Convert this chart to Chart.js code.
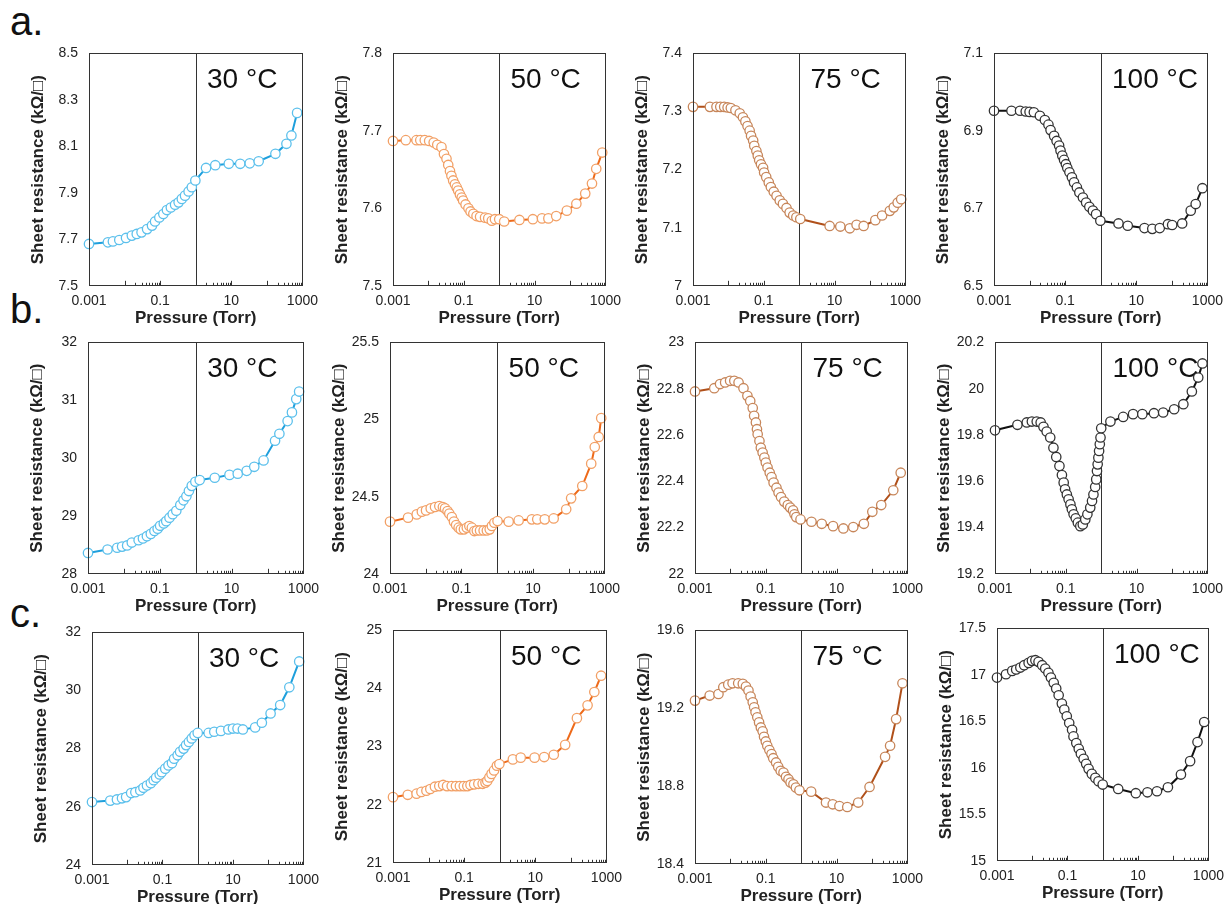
<!DOCTYPE html>
<html>
<head>
<meta charset="utf-8">
<script src="https://cdn.jsdelivr.net/npm/chart.js@4.4.0/dist/chart.umd.min.js"></script>
<style>
  body { margin: 0; background: #fff; width: 1224px; height: 904px; position: relative; overflow: hidden; font-family: "Liberation Sans", Arial, sans-serif; }
  canvas { position: absolute; }
  .tag { position: absolute; font-size: 40px; line-height: 1; color: #111; }
</style>
</head>
<body>
<div class="tag" style="left:10px;top:1px">a.</div>
<div class="tag" style="left:10px;top:289px">b.</div>
<div class="tag" style="left:10px;top:593px">c.</div>
<script>
// pressure (Torr) and sheet resistance (kOhm/sq)
const pA30 = [0.001, 0.0034, 0.0047, 0.0071, 0.011, 0.016, 0.022, 0.030, 0.043, 0.059, 0.072, 0.095, 0.123, 0.155, 0.20, 0.263, 0.331, 0.407, 0.501, 0.631, 0.776, 0.977, 1.95, 3.55, 8.51, 17.8, 33.1, 58.9, 174, 355, 490, 708];
const rA30 = [7.680, 7.687, 7.691, 7.697, 7.706, 7.716, 7.723, 7.730, 7.744, 7.759, 7.777, 7.794, 7.809, 7.826, 7.837, 7.849, 7.859, 7.874, 7.888, 7.906, 7.924, 7.953, 8.007, 8.019, 8.025, 8.025, 8.027, 8.036, 8.068, 8.111, 8.147, 8.244];

const pA50 = [0.001, 0.0023, 0.0046, 0.0059, 0.0079, 0.0105, 0.0141, 0.0178, 0.0234, 0.0275, 0.0324, 0.0363, 0.0407, 0.0447, 0.050, 0.0562, 0.0631, 0.0692, 0.0776, 0.0871, 0.0955, 0.112, 0.135, 0.155, 0.186, 0.229, 0.288, 0.398, 0.490, 0.617, 0.759, 1.0, 1.38, 3.72, 8.91, 16.2, 24.5, 40.7, 81.3, 151, 269, 417, 550, 813];
const rA50 = [7.687, 7.688, 7.688, 7.688, 7.688, 7.687, 7.685, 7.682, 7.679, 7.670, 7.664, 7.656, 7.648, 7.642, 7.636, 7.631, 7.627, 7.623, 7.618, 7.614, 7.610, 7.605, 7.600, 7.596, 7.593, 7.590, 7.589, 7.588, 7.587, 7.584, 7.586, 7.586, 7.583, 7.585, 7.586, 7.587, 7.587, 7.590, 7.597, 7.606, 7.619, 7.632, 7.651, 7.672];

const pA75 = [0.001, 0.0030, 0.0046, 0.0059, 0.0076, 0.0095, 0.0117, 0.0158, 0.0209, 0.0257, 0.0302, 0.0347, 0.0398, 0.0437, 0.050, 0.0537, 0.0617, 0.0676, 0.0741, 0.0832, 0.0955, 0.102, 0.117, 0.138, 0.158, 0.191, 0.229, 0.282, 0.347, 0.437, 0.537, 0.676, 0.832, 1.07, 7.24, 14.5, 26.9, 41.7, 66.1, 141, 219, 363, 468, 603, 759];
const rA75 = [7.308, 7.308, 7.308, 7.308, 7.308, 7.307, 7.306, 7.302, 7.297, 7.290, 7.283, 7.275, 7.267, 7.258, 7.250, 7.241, 7.232, 7.224, 7.216, 7.209, 7.203, 7.195, 7.187, 7.178, 7.170, 7.162, 7.155, 7.147, 7.141, 7.134, 7.126, 7.121, 7.118, 7.115, 7.103, 7.102, 7.099, 7.105, 7.103, 7.113, 7.121, 7.129, 7.135, 7.143, 7.149];

const pA100 = [0.001, 0.0031, 0.0054, 0.0078, 0.010, 0.0132, 0.0195, 0.0269, 0.0339, 0.0389, 0.049, 0.0575, 0.0676, 0.0741, 0.0832, 0.0933, 0.105, 0.115, 0.132, 0.155, 0.178, 0.214, 0.251, 0.316, 0.389, 0.479, 0.603, 0.741, 0.977, 3.16, 5.75, 17.0, 28.2, 45.7, 77.6, 102, 195, 339, 468, 724];
const rA100 = [6.952, 6.952, 6.952, 6.950, 6.949, 6.948, 6.939, 6.928, 6.916, 6.902, 6.887, 6.874, 6.862, 6.849, 6.836, 6.825, 6.814, 6.804, 6.793, 6.780, 6.767, 6.754, 6.741, 6.728, 6.715, 6.704, 6.694, 6.685, 6.668, 6.661, 6.655, 6.649, 6.647, 6.649, 6.659, 6.657, 6.661, 6.694, 6.711, 6.752];

const pB30 = [0.001, 0.0035, 0.0065, 0.0089, 0.0123, 0.0166, 0.0257, 0.0339, 0.0437, 0.0562, 0.0708, 0.0871, 0.102, 0.129, 0.151, 0.186, 0.229, 0.288, 0.372, 0.457, 0.550, 0.646, 0.776, 0.977, 1.29, 3.39, 8.71, 14.8, 26.3, 42.7, 77.6, 162, 214, 363, 479, 631, 759];
const rB30 = [28.36, 28.42, 28.45, 28.47, 28.49, 28.54, 28.58, 28.61, 28.65, 28.69, 28.74, 28.78, 28.83, 28.87, 28.91, 28.97, 29.03, 29.09, 29.19, 29.27, 29.34, 29.43, 29.52, 29.59, 29.62, 29.66, 29.71, 29.73, 29.78, 29.85, 29.96, 30.30, 30.42, 30.64, 30.79, 31.02, 31.15];

const pB50 = [0.001, 0.0032, 0.0056, 0.0078, 0.0102, 0.0138, 0.0182, 0.0240, 0.0302, 0.0347, 0.0407, 0.0457, 0.0537, 0.0617, 0.0708, 0.0832, 0.0955, 0.117, 0.141, 0.166, 0.195, 0.229, 0.269, 0.331, 0.417, 0.513, 0.617, 0.708, 0.832, 1.02, 2.09, 3.98, 9.33, 13.2, 21.4, 38.0, 85.1, 117, 240, 427, 537, 692, 813];
const rB50 = [24.338, 24.364, 24.385, 24.403, 24.411, 24.424, 24.433, 24.439, 24.433, 24.424, 24.407, 24.390, 24.368, 24.338, 24.316, 24.299, 24.288, 24.288, 24.299, 24.310, 24.299, 24.277, 24.281, 24.281, 24.281, 24.281, 24.288, 24.310, 24.331, 24.342, 24.338, 24.346, 24.353, 24.353, 24.353, 24.359, 24.418, 24.489, 24.569, 24.714, 24.822, 24.887, 25.009];

const pB75 = [0.001, 0.0035, 0.0051, 0.0071, 0.0098, 0.0129, 0.0170, 0.0234, 0.0302, 0.0363, 0.0427, 0.0468, 0.0525, 0.0562, 0.0589, 0.0661, 0.0724, 0.0813, 0.0912, 0.100, 0.112, 0.129, 0.145, 0.166, 0.200, 0.229, 0.269, 0.331, 0.417, 0.490, 0.589, 0.646, 0.724, 0.955, 1.95, 3.80, 7.94, 15.5, 29.5, 58.9, 102, 182, 398, 646];
const rB75 = [22.788, 22.802, 22.820, 22.827, 22.834, 22.834, 22.827, 22.802, 22.769, 22.747, 22.716, 22.683, 22.654, 22.625, 22.603, 22.574, 22.545, 22.524, 22.502, 22.481, 22.459, 22.437, 22.418, 22.394, 22.372, 22.351, 22.332, 22.312, 22.297, 22.286, 22.274, 22.257, 22.245, 22.235, 22.225, 22.216, 22.206, 22.196, 22.202, 22.216, 22.268, 22.297, 22.361, 22.437];

const pB100 = [0.001, 0.0043, 0.0079, 0.0110, 0.0151, 0.0195, 0.0234, 0.0288, 0.0363, 0.0447, 0.0537, 0.0661, 0.0776, 0.0871, 0.0955, 0.107, 0.120, 0.135, 0.148, 0.166, 0.191, 0.219, 0.257, 0.302, 0.355, 0.407, 0.490, 0.550, 0.603, 0.676, 0.724, 0.759, 0.794, 0.832, 0.871, 0.912, 0.955, 1.0, 1.82, 4.17, 7.94, 14.5, 30.9, 56.2, 115, 209, 363, 550, 724];
const rB100 = [19.820, 19.844, 19.854, 19.858, 19.858, 19.854, 19.835, 19.815, 19.789, 19.745, 19.705, 19.666, 19.627, 19.594, 19.565, 19.543, 19.522, 19.500, 19.479, 19.457, 19.440, 19.421, 19.406, 19.413, 19.435, 19.457, 19.486, 19.515, 19.543, 19.575, 19.608, 19.644, 19.673, 19.702, 19.731, 19.760, 19.789, 19.829, 19.858, 19.878, 19.890, 19.890, 19.894, 19.897, 19.911, 19.933, 19.988, 20.048, 20.109];

const pC30 = [0.001, 0.0033, 0.0051, 0.0071, 0.0093, 0.0129, 0.0170, 0.0234, 0.0288, 0.0363, 0.0468, 0.0562, 0.0661, 0.0832, 0.0955, 0.120, 0.148, 0.186, 0.214, 0.269, 0.316, 0.398, 0.468, 0.562, 0.676, 0.813, 1.0, 2.04, 2.95, 4.57, 7.41, 10.0, 13.5, 19.1, 42.7, 66.1, 117, 219, 398, 759];
const rC30 = [26.16, 26.21, 26.25, 26.29, 26.33, 26.47, 26.50, 26.56, 26.65, 26.73, 26.81, 26.91, 27.00, 27.11, 27.19, 27.31, 27.42, 27.50, 27.65, 27.77, 27.89, 28.00, 28.12, 28.23, 28.35, 28.46, 28.54, 28.54, 28.58, 28.61, 28.66, 28.69, 28.69, 28.66, 28.73, 28.89, 29.21, 29.50, 30.11, 31.00];

const pC50 = [0.001, 0.0026, 0.0046, 0.0063, 0.0087, 0.0112, 0.0151, 0.020, 0.0257, 0.0331, 0.0447, 0.0589, 0.0759, 0.0977, 0.123, 0.151, 0.191, 0.251, 0.331, 0.398, 0.447, 0.513, 0.589, 0.692, 0.832, 0.977, 2.34, 3.89, 9.55, 17.8, 33.1, 69.2, 148, 295, 457, 708];
const rC50 = [22.13, 22.17, 22.19, 22.22, 22.24, 22.27, 22.31, 22.32, 22.34, 22.32, 22.32, 22.32, 22.32, 22.32, 22.32, 22.34, 22.35, 22.36, 22.36, 22.38, 22.41, 22.47, 22.53, 22.59, 22.67, 22.70, 22.78, 22.81, 22.81, 22.82, 22.86, 23.03, 23.49, 23.71, 23.94, 24.22];

const pC75 = [0.001, 0.0026, 0.0046, 0.0063, 0.0087, 0.0115, 0.0166, 0.0224, 0.0275, 0.0324, 0.0372, 0.0427, 0.0468, 0.0513, 0.0575, 0.0646, 0.0724, 0.0813, 0.0891, 0.100, 0.110, 0.126, 0.145, 0.162, 0.195, 0.224, 0.263, 0.316, 0.372, 0.437, 0.501, 0.603, 0.708, 0.891, 1.91, 5.01, 7.76, 12.0, 20.0, 40.7, 85.1, 234, 324, 479, 724];
const rC75 = [19.239, 19.265, 19.273, 19.308, 19.321, 19.328, 19.328, 19.325, 19.311, 19.291, 19.260, 19.230, 19.205, 19.179, 19.153, 19.127, 19.101, 19.081, 19.053, 19.029, 19.007, 18.985, 18.964, 18.943, 18.921, 18.899, 18.878, 18.869, 18.847, 18.835, 18.818, 18.809, 18.792, 18.778, 18.771, 18.715, 18.706, 18.697, 18.692, 18.715, 18.795, 18.950, 19.007, 19.144, 19.328];

const pC100 = [0.001, 0.0018, 0.0027, 0.0035, 0.0046, 0.0059, 0.0079, 0.0098, 0.0123, 0.0151, 0.0191, 0.0234, 0.0288, 0.0339, 0.0407, 0.0479, 0.0562, 0.0692, 0.0813, 0.0955, 0.112, 0.135, 0.148, 0.178, 0.209, 0.240, 0.288, 0.339, 0.398, 0.490, 0.617, 0.759, 1.0, 2.75, 8.71, 18.6, 34.7, 70.8, 166, 302, 490, 759];
const rC100 = [16.971, 17.007, 17.043, 17.058, 17.079, 17.104, 17.129, 17.151, 17.158, 17.140, 17.104, 17.068, 17.022, 16.971, 16.914, 16.853, 16.781, 16.691, 16.626, 16.554, 16.482, 16.410, 16.338, 16.266, 16.205, 16.151, 16.097, 16.043, 15.989, 15.935, 15.892, 15.856, 15.820, 15.773, 15.727, 15.737, 15.748, 15.791, 15.928, 16.072, 16.277, 16.493];

// axis ticks
const xTickLabels = [0.001, 0.1, 10, 1000];
const minorDecades = [0.01, 1, 100];
const yTicksA30 = [7.5, 7.7, 7.9, 8.1, 8.3, 8.5];
const yTicksA50 = [7.5, 7.6, 7.7, 7.8];
const yTicksA75 = [7, 7.1, 7.2, 7.3, 7.4];
const yTicksA100 = [6.5, 6.7, 6.9, 7.1];
const yTicksB30 = [28, 29, 30, 31, 32];
const yTicksB50 = [24, 24.5, 25, 25.5];
const yTicksB75 = [22, 22.2, 22.4, 22.6, 22.8, 23];
const yTicksB100 = [19.2, 19.4, 19.6, 19.8, 20, 20.2];
const yTicksC30 = [24, 26, 28, 30, 32];
const yTicksC50 = [21, 22, 23, 24, 25];
const yTicksC75 = [18.4, 18.8, 19.2, 19.6];
const yTicksC100 = [15, 15.5, 16, 16.5, 17, 17.5];

const temps = ['30 °C', '50 °C', '75 °C', '100 °C'];
const lineColors = ['#1e9fdc', '#ee6a1a', '#b0501a', '#111111'];
const markerColors = ['#5cc0ec', '#f2a066', '#c7865a', '#333333'];

const panels = [
    { p: pA30, r: rA30, ticks: yTicksA30, t: 0, area: [89, 53, 302, 285] },
    { p: pA50, r: rA50, ticks: yTicksA50, t: 1, area: [393, 53, 605, 285] },
    { p: pA75, r: rA75, ticks: yTicksA75, t: 2, area: [693, 53, 905, 285] },
    { p: pA100, r: rA100, ticks: yTicksA100, t: 3, area: [994, 53, 1207, 285] },
    { p: pB30, r: rB30, ticks: yTicksB30, t: 0, area: [88, 342, 303, 573] },
    { p: pB50, r: rB50, ticks: yTicksB50, t: 1, area: [390, 342, 604, 573] },
    { p: pB75, r: rB75, ticks: yTicksB75, t: 2, area: [695, 342, 907, 573] },
    { p: pB100, r: rB100, ticks: yTicksB100, t: 3, area: [995, 342, 1207, 573] },
    { p: pC30, r: rC30, ticks: yTicksC30, t: 0, area: [92, 632, 303, 864] },
    { p: pC50, r: rC50, ticks: yTicksC50, t: 1, area: [393, 630, 606, 862] },
    { p: pC75, r: rC75, ticks: yTicksC75, t: 2, area: [695, 630, 907, 863] },
    { p: pC100, r: rC100, ticks: yTicksC100, t: 3, area: [997, 628, 1208, 860] }
];

Chart.defaults.font.family = '"Liberation Sans", Arial, sans-serif';
Chart.defaults.color = '#222';

// frame, line at 1 Torr, inside minor ticks, temperature label
const framePlugin = {
    id: 'frame',
    beforeDatasetsDraw(chart, args, opts) {
        const { ctx, chartArea: a, scales: { x } } = chart;
        ctx.save();
        ctx.strokeStyle = '#333';
        ctx.lineWidth = 1;
        const px = Math.round(x.getPixelForValue(1)) + 0.5;
        ctx.beginPath();
        ctx.moveTo(px, a.top);
        ctx.lineTo(px, a.bottom);
        ctx.stroke();
        ctx.fillStyle = '#111';
        ctx.font = '28px "Liberation Sans", Arial, sans-serif';
        ctx.textBaseline = 'alphabetic';
        ctx.fillText(opts.label, a.left + (a.right - a.left) * 0.553, a.top + 35);
        ctx.restore();
    },
    afterDraw(chart) {
        const { ctx, chartArea: a, scales: { x } } = chart;
        ctx.save();
        ctx.strokeStyle = '#333';
        ctx.lineWidth = 1;
        ctx.strokeRect(Math.round(a.left) + 0.5, Math.round(a.top) + 0.5,
            Math.round(a.right - a.left), Math.round(a.bottom - a.top));
        ctx.beginPath();
        minorDecades.forEach(d => {
            for (let k = 1; k <= 10; k++) {
                const px = Math.round(x.getPixelForValue(d * k)) + 0.5;
                const len = (k === 1 || k === 10) ? 5 : 3;
                ctx.moveTo(px, a.bottom);
                ctx.lineTo(px, a.bottom - len);
            }
        });
        ctx.stroke();
        ctx.restore();
    }
};

function makeChart(panel, w, h) {
    const canvas = document.createElement('canvas');
    canvas.width = w;
    canvas.height = h;
    canvas.style.width = w + 'px';
    canvas.style.height = h + 'px';
    document.body.appendChild(canvas);
    const chart = new Chart(canvas.getContext('2d'), {
        type: 'scatter',
        data: {
            datasets: [{
                data: panel.p.map((v, i) => ({ x: v, y: panel.r[i] })),
                showLine: true,
                borderColor: lineColors[panel.t],
                borderWidth: 2,
                pointRadius: 4.7,
                pointBackgroundColor: '#fff',
                pointBorderColor: markerColors[panel.t],
                pointBorderWidth: 1.3,
                clip: false
            }]
        },
        options: {
            responsive: false,
            animation: false,
            devicePixelRatio: 1,
            layout: { padding: { top: 4, right: 4, left: 0, bottom: 0 } },
            plugins: {
                legend: { display: false },
                tooltip: { enabled: false },
                frame: { label: temps[panel.t] }
            },
            scales: {
                x: {
                    type: 'logarithmic',
                    min: 0.001,
                    max: 1000,
                    grid: { display: false, drawTicks: false },
                    border: { display: false },
                    afterBuildTicks: s => { s.ticks = xTickLabels.map(v => ({ value: v })); },
                    ticks: {
                        autoSkip: false,
                        maxRotation: 0,
                        padding: 7,
                        font: { size: 14 },
                        callback: v => String(v)
                    },
                    title: {
                        display: true,
                        text: 'Pressure (Torr)',
                        font: { size: 17, weight: 'bold' },
                        padding: { top: -8, bottom: 0 }
                    }
                },
                y: {
                    min: panel.ticks[0],
                    max: panel.ticks[panel.ticks.length - 1],
                    grid: { display: false, drawTicks: false },
                    border: { display: false },
                    afterBuildTicks: s => { s.ticks = panel.ticks.map(v => ({ value: v })); },
                    afterFit: s => { s.width = 63; },
                    ticks: {
                        padding: 11,
                        font: { size: 14 },
                        callback: v => String(Number(v.toFixed(2)))
                    },
                    title: {
                        display: true,
                        text: 'Sheet resistance (kΩ/□)',
                        font: { size: 17, weight: 'bold' },
                        padding: { top: 2, bottom: 0 }
                    }
                }
            }
        },
        plugins: [framePlugin]
    });
    return { canvas, chart };
}

// build once to measure the axis space, then size the canvas so the plot area lands where it should
panels.forEach(panel => {
    const [l, t, r, b] = panel.area;
    const w = r - l, h = b - t;
    const cw = w + 100, ch = h + 80;
    const probe = makeChart(panel, cw, ch);
    const ca = probe.chart.chartArea;
    const exL = ca.left, exT = ca.top, exR = cw - ca.right, exB = ch - ca.bottom;
    probe.chart.destroy();
    probe.canvas.remove();
    const fin = makeChart(panel, Math.round(w + exL + exR), Math.round(h + exT + exB));
    fin.canvas.style.left = Math.round(l - exL) + 'px';
    fin.canvas.style.top = Math.round(t - exT) + 'px';
});
</script>
</body>
</html>
